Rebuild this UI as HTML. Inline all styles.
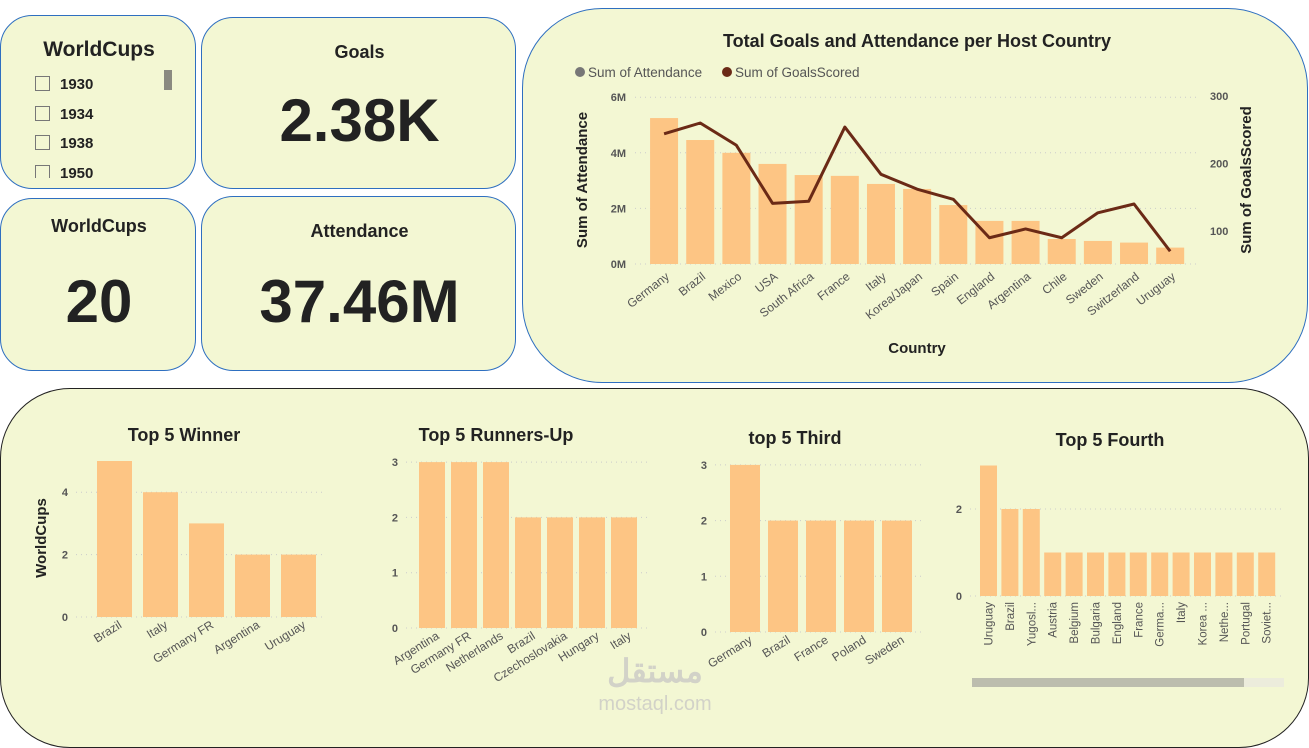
<!DOCTYPE html>
<html><head><meta charset="utf-8"><style>
body{margin:0;width:1309px;height:731px;background:#fff;position:relative;overflow:hidden;font-family:"Liberation Sans",sans-serif;color:#222}
.card{position:absolute;background:#f3f7d3;border:1.3px solid #2e6fc0;box-sizing:border-box}
.t{position:absolute;font-weight:bold;text-align:center}
svg{position:absolute;left:0;top:0}
text{font-family:"Liberation Sans",sans-serif}
</style></head><body>
<div class="card" style="left:0;top:15px;width:196px;height:174px;border-radius:32px">
 <div class="t" style="left:0;width:196px;top:22px;font-size:21px">WorldCups</div>
 <div style="position:absolute;left:34px;top:60px;width:130px;height:102px;overflow:hidden;font-weight:bold;font-size:15px">
  <div style="height:29.5px"><span style="display:inline-block;width:13px;height:13px;border:1px solid #777;vertical-align:-2px;margin-right:10px"></span>1930</div>
  <div style="height:29.5px"><span style="display:inline-block;width:13px;height:13px;border:1px solid #777;vertical-align:-2px;margin-right:10px"></span>1934</div>
  <div style="height:29.5px"><span style="display:inline-block;width:13px;height:13px;border:1px solid #777;vertical-align:-2px;margin-right:10px"></span>1938</div>
  <div style="height:29.5px"><span style="display:inline-block;width:13px;height:13px;border:1px solid #777;vertical-align:-2px;margin-right:10px"></span>1950</div>
 </div>
 <div style="position:absolute;left:163px;top:54px;width:8px;height:20px;background:#8a8a80"></div>
</div>
<div class="card" style="left:201px;top:17px;width:315px;height:172px;border-radius:32px">
 <div class="t" style="left:0;width:315px;top:24px;font-size:18px">Goals</div>
 <div class="t" style="left:0;width:315px;top:68px;font-size:60px">2.38K</div>
</div>
<div class="card" style="left:0;top:198px;width:196px;height:173px;border-radius:32px">
 <div class="t" style="left:0;width:196px;top:17px;font-size:18px">WorldCups</div>
 <div class="t" style="left:0;width:196px;top:68px;font-size:60px">20</div>
</div>
<div class="card" style="left:201px;top:196px;width:315px;height:175px;border-radius:32px">
 <div class="t" style="left:0;width:315px;top:24px;font-size:18px">Attendance</div>
 <div class="t" style="left:0;width:315px;top:70px;font-size:60px">37.46M</div>
</div>
<div class="card" style="left:522px;top:8px;width:786px;height:375px;border-radius:80px"></div>
<div class="card" style="left:0;top:388px;width:1309px;height:360px;border-radius:70px;border-color:#222"></div>
<svg id="s" width="1309" height="731"></svg>
<script>
const hostCountries=["Germany","Brazil","Mexico","USA","South Africa","France","Italy","Korea/Japan","Spain","England","Argentina","Chile","Sweden","Switzerland","Uruguay"];
const attendance=[5.25,4.46,4.0,3.6,3.2,3.17,2.88,2.7,2.12,1.55,1.55,0.9,0.83,0.77,0.59];
const goals=[244,260,227,141,144,254,184,162,147,90,103,90,127,140,70];
const attTicks=["0M","2M","4M","6M"];
const goalTicks=[100,200,300];
const winnerCats=["Brazil","Italy","Germany FR","Argentina","Uruguay"];
const winnerVals=[5,4,3,2,2];
const runnerCats=["Argentina","Germany FR","Netherlands","Brazil","Czechoslovakia","Hungary","Italy"];
const runnerVals=[3,3,3,2,2,2,2];
const thirdCats=["Germany","Brazil","France","Poland","Sweden"];
const thirdVals=[3,2,2,2,2];
const fourthCats=["Uruguay","Brazil","Yugosl...","Austria","Belgium","Bulgaria","England","France","Germa...","Italy","Korea ...","Nethe...","Portugal","Soviet..."];
const fourthVals=[3,2,2,1,1,1,1,1,1,1,1,1,1,1];
const S=document.getElementById('s');const NS="http://www.w3.org/2000/svg";
function el(tag,a,txt){const e=document.createElementNS(NS,tag);for(const k in a)e.setAttribute(k,a[k]);if(txt!==undefined)e.textContent=txt;S.appendChild(e);return e;}
const BAR="#fdc584";
let e=el('text',{x:917,y:47,'text-anchor':'middle','font-size':18,'font-weight':'bold',fill:'#222'},'Total Goals and Attendance per Host Country');

e=el('circle',{cx:580,cy:72,r:5,fill:'#777'});
e=el('text',{x:588,y:77,'font-size':13.5,fill:'#555'},'Sum of Attendance');
e=el('circle',{cx:727,cy:72,r:5,fill:'#6b2a16'});
e=el('text',{x:735,y:77,'font-size':13.5,fill:'#555'},'Sum of GoalsScored');
const x0=646,step=36.15,yA=v=>264-v*27.8,yG=v=>231-(v-100)*0.675;
attTicks.forEach((t,i)=>{const y=yA(i*2);
 e=el('line',{x1:635,x2:1199,y1:y,y2:y,stroke:'#ccc','stroke-dasharray':'1 4'});
 e=el('text',{x:626,y:y+4,'text-anchor':'end','font-size':11,'font-weight':'bold',fill:'#555'},t);});
goalTicks.forEach(t=>{e=el('text',{x:1210,y:yG(t)+4,'font-size':11,'font-weight':'bold',fill:'#555'},t);});
hostCountries.forEach((c,i)=>{const cx=x0+step*(i+0.5);
 e=el('rect',{x:cx-14,y:yA(attendance[i]),width:28,height:264-yA(attendance[i]),fill:BAR});
 e=el('text',{x:cx+6,y:278,'text-anchor':'end','font-size':12,fill:'#555',transform:`rotate(-38 ${cx+6} 278)`},c);});
e=el('polyline',{points:goals.map((g,i)=>`${x0+step*(i+0.5)},${yG(g)}`).join(' '),fill:'none',stroke:'#6b2a16','stroke-width':3,'stroke-linejoin':'round'});
e=el('text',{x:587,y:180,'text-anchor':'middle','font-size':15,'font-weight':'bold',fill:'#222',transform:'rotate(-90 587 180)'},'Sum of Attendance');
e=el('text',{x:1251,y:180,'text-anchor':'middle','font-size':15,'font-weight':'bold',fill:'#222',transform:'rotate(-90 1251 180)'},'Sum of GoalsScored');
e=el('text',{x:917,y:353,'text-anchor':'middle','font-size':15,'font-weight':'bold',fill:'#222'},'Country');
function small(o){
 e=el('text',{x:o.tx,y:o.ty,'text-anchor':'middle','font-size':18,'font-weight':'bold',fill:'#222'},o.title);
 const y=v=>o.y0-v*o.py;
 o.ticks.forEach(t=>{e=el('line',{x1:o.gx1,x2:o.gx2,y1:y(t),y2:y(t),stroke:'#ccc','stroke-dasharray':'1 4'});
  e=el('text',{x:o.gx1-8,y:y(t)+4,'text-anchor':'end','font-size':11,'font-weight':'bold',fill:'#555'},t);});
 o.cats.forEach((c,i)=>{const bx=o.bx+o.step*i,cx=bx+o.bw/2;
  e=el('rect',{x:bx,y:y(o.vals[i]),width:o.bw,height:o.vals[i]*o.py,fill:BAR});
  if(o.vert){e=el('text',{x:cx+4,y:o.y0+6,'text-anchor':'end','font-size':11.5,fill:'#555',transform:`rotate(-90 ${cx+4} ${o.y0+6})`},c);}
  else{e=el('text',{x:cx+8,y:o.y0+10,'text-anchor':'end','font-size':12,fill:'#555',transform:`rotate(-32 ${cx+8} ${o.y0+10})`},c);}
  });
}
small({title:'Top 5 Winner',tx:184,ty:441,cats:winnerCats,vals:winnerVals,y0:617,py:31.2,ticks:[0,2,4],gx1:76,gx2:322,bx:97,bw:35,step:46});
small({title:'Top 5 Runners-Up',tx:496,ty:441,cats:runnerCats,vals:runnerVals,y0:628,py:55.3,ticks:[0,1,2,3],gx1:406,gx2:648,bx:419,bw:26,step:32});
small({title:'top 5 Third',tx:795,ty:444,cats:thirdCats,vals:thirdVals,y0:632,py:55.7,ticks:[0,1,2,3],gx1:715,gx2:925,bx:730,bw:30,step:38});
small({title:'Top 5 Fourth',tx:1110,ty:446,cats:fourthCats,vals:fourthVals,y0:596,py:43.5,ticks:[0,2],gx1:970,gx2:1284,bx:980,bw:17,step:21.4,vert:true});
e=el('text',{x:46,y:538,'text-anchor':'middle','font-size':15,'font-weight':'bold',fill:'#222',transform:'rotate(-90 46 538)'},'WorldCups');
e=el('rect',{x:972,y:678,width:312,height:9,fill:'#ececdc'});
e=el('rect',{x:972,y:678,width:272,height:9,fill:'#bcbdae'});
e=el('text',{x:655,y:682,'text-anchor':'middle','font-size':32,'font-weight':'bold',fill:'#d2d2c8','font-family':'"Liberation Sans","Noto Sans CJK SC",sans-serif'},'مستقل');
e=el('text',{x:655,y:710,'text-anchor':'middle','font-size':20,fill:'#d2d2c8'},'mostaql.com');
</script>
</body></html>
